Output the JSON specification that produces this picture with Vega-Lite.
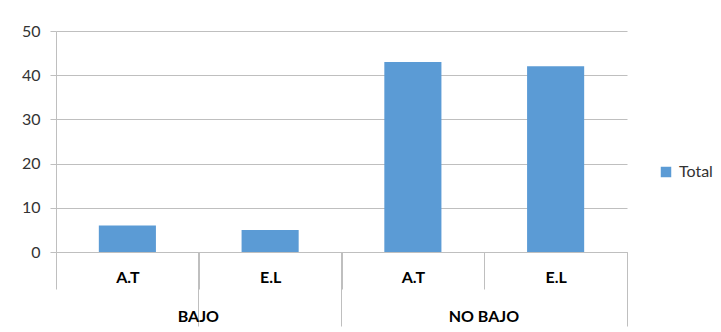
{
  "$schema": "https://vega.github.io/schema/vega-lite/v6.json",
  "width": 571,
  "height": 221,
  "autosize": {"type": "none"},
  "padding": {"left": 56, "top": 31, "right": 94, "bottom": 80},
  "background": "white",
  "config": {"font": "Lato", "view": {"stroke": null}},
  "data": {
    "values": [
      {"grupo": "BAJO", "cat": "A.T", "key": "BAJO|A.T", "valor": 6, "serie": "Total"},
      {"grupo": "BAJO", "cat": "E.L", "key": "BAJO|E.L", "valor": 5, "serie": "Total"},
      {"grupo": "NO BAJO", "cat": "A.T", "key": "NO BAJO|A.T", "valor": 43, "serie": "Total"},
      {"grupo": "NO BAJO", "cat": "E.L", "key": "NO BAJO|E.L", "valor": 42, "serie": "Total"}
    ]
  },
  "layer": [
    {
      "mark": {"type": "bar", "width": {"band": 0.4}},
      "encoding": {
        "x": {
          "field": "key", "type": "nominal", "sort": null,
          "scale": {"paddingInner": 0, "paddingOuter": 0},
          "axis": {
            "orient": "bottom", "title": null, "tickBand": "extent", "tickSize": 37,
            "tickColor": "#bfbfbf", "domainColor": "#bfbfbf",
            "labelExpr": "split(datum.value, '|')[1]", "labelAngle": 0,
            "labelFontWeight": "bold", "labelFontSize": 16, "labelColor": "#000000",
            "labelPadding": -20
          }
        },
        "y": {
          "field": "valor", "type": "quantitative", "scale": {"domain": [0, 50]},
          "axis": {
            "title": null, "values": [0, 10, 20, 30, 40, 50], "tickSize": 6,
            "tickColor": "#bfbfbf", "domainColor": "#bfbfbf", "gridColor": "#bfbfbf",
            "labelFontSize": 16, "labelColor": "#333333", "labelPadding": 10
          }
        },
        "color": {
          "field": "serie", "type": "nominal", "scale": {"range": ["#5b9bd5"]},
          "legend": {
            "title": null, "orient": "none", "legendX": 602, "legendY": 133,
            "symbolType": "square", "symbolSize": 110, "symbolStrokeWidth": 0,
            "labelFontSize": 16, "labelColor": "#333333", "labelOffset": 5, "padding": 0
          }
        }
      }
    },
    {
      "mark": {"type": "bar", "opacity": 0},
      "encoding": {
        "x": {
          "field": "key", "type": "nominal", "sort": null,
          "axis": {
            "orient": "bottom", "title": null, "values": ["BAJO|E.L", "NO BAJO|E.L"],
            "bandPosition": 1, "tickExtra": true, "tickSize": 74, "labels": false,
            "domain": false, "tickColor": "#bfbfbf"
          }
        }
      }
    },
    {
      "mark": {"type": "bar", "opacity": 0},
      "encoding": {
        "x": {
          "field": "key", "type": "nominal", "sort": null,
          "axis": {
            "orient": "bottom", "title": null, "values": ["BAJO|A.T", "NO BAJO|A.T"],
            "ticks": false, "domain": false, "labelAngle": 0,
            "labelExpr": "split(datum.value, '|')[0]", "labelOffset": 71,
            "labelPadding": 56, "labelFontWeight": "bold", "labelFontSize": 16,
            "labelColor": "#000000"
          }
        }
      }
    }
  ],
  "resolve": {"axis": {"x": "independent"}}
}
